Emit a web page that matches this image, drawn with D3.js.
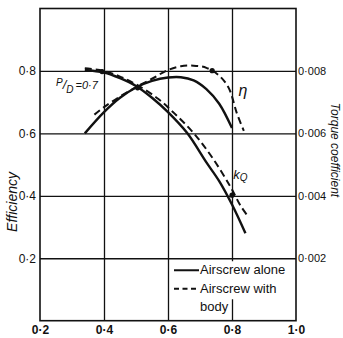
<!DOCTYPE html>
<html>
<head>
<meta charset="utf-8">
<script src="https://cdn.jsdelivr.net/npm/d3@7"></script>
<style>
  html, body { margin: 0; padding: 0; background: #fff; }
  svg { display: block; font-family: 'Liberation Sans', 'DejaVu Sans', sans-serif; }
</style>
</head>
<body>
<svg id="drawing_region"></svg>
<script>
// advance ratio J on x, efficiency on left, torque coefficient on right
const xTicks     = [0.2, 0.4, 0.6, 0.8, 1.0];
const xGrid      = [0.4, 0.6, 0.8];
const effTicks   = [0.2, 0.4, 0.6, 0.8];
const kqTicks    = [0.002, 0.004, 0.006, 0.008];

const etaAloneJ  = [0.34, 0.40, 0.45, 0.50, 0.55, 0.60, 0.64, 0.68, 0.72, 0.76, 0.80];
const etaAlone   = [0.600, 0.668, 0.714, 0.747, 0.768, 0.779, 0.780, 0.770, 0.742, 0.695, 0.617];

const etaBodyJ   = [0.37, 0.40, 0.45, 0.50, 0.55, 0.60, 0.64, 0.68, 0.72, 0.76, 0.79, 0.815, 0.837];
const etaBody    = [0.660, 0.684, 0.718, 0.748, 0.775, 0.803, 0.815, 0.817, 0.810, 0.785, 0.745, 0.665, 0.608];

const kqAloneJ   = [0.34, 0.40, 0.45, 0.50, 0.55, 0.60, 0.66, 0.72, 0.76, 0.80, 0.842];
const kqAlone    = [0.00803, 0.00795, 0.00777, 0.00752, 0.00714, 0.00668, 0.00601, 0.00507, 0.00447, 0.00372, 0.00280];

const kqBodyJ    = [0.34, 0.40, 0.45, 0.50, 0.57, 0.62, 0.68, 0.74, 0.795, 0.827, 0.853];
const kqBody     = [0.00809, 0.00800, 0.00782, 0.00757, 0.00710, 0.00664, 0.00601, 0.00520, 0.00429, 0.00368, 0.00330];

const markJ      = [0.394, 0.505, 0.738, 0.800];
const markEff    = [0.798, 0.746, 0.801, 0.402];

const legendLabels = ['Airscrew alone', 'Airscrew with', 'body'];

const W = 343, H = 338;
const margin = { top: 8.5, right: 47, bottom: 17.3, left: 40 };
const iw = W - margin.left - margin.right;
const ih = H - margin.top - margin.bottom;

const svg = d3.select('#drawing_region').attr('width', W).attr('height', H);
const chart = svg.append('g').attr('transform', `translate(${margin.left}, ${margin.top})`);

const x  = d3.scaleLinear().domain([0.2, 1.0]).range([0, iw]);
const y  = d3.scaleLinear().domain([0, 1.0]).range([ih, 0]);
const yk = d3.scaleLinear().domain([0, 0.01]).range([ih, 0]);

const dot = s => s.replace('.', '·');
const ink = '#111';

// grid lines
chart.append('g')
    .call(d3.axisLeft(y).tickValues(effTicks).tickSize(-iw).tickFormat(''))
    .call(g => g.select('.domain').remove())
    .call(g => g.selectAll('line').attr('stroke', ink).attr('stroke-width', 1.3));

chart.append('g')
    .attr('transform', `translate(0, ${ih})`)
    .call(d3.axisBottom(x).tickValues(xGrid).tickSize(-ih).tickFormat(''))
    .call(g => g.select('.domain').remove())
    .call(g => g.selectAll('line').attr('stroke', ink).attr('stroke-width', 1.3));

// tick labels
chart.append('g')
    .call(d3.axisLeft(y).tickValues(effTicks).tickSize(0).tickPadding(4).tickFormat(d => dot(d3.format('.1f')(d))))
    .call(g => g.select('.domain').remove())
    .call(g => g.selectAll('text').attr('font-size', 12).attr('fill', ink).attr('font-family', null));

chart.append('g')
    .attr('transform', `translate(${iw}, 0)`)
    .call(d3.axisRight(yk).tickValues(kqTicks).tickSize(0).tickPadding(2).tickFormat(d => dot(d3.format('.3f')(d))))
    .call(g => g.select('.domain').remove())
    .call(g => g.selectAll('text').attr('font-size', 11).attr('fill', ink).attr('font-family', null));

chart.append('g')
    .attr('transform', `translate(0, ${ih})`)
    .call(d3.axisBottom(x).tickValues(xTicks).tickSize(0).tickPadding(5).tickFormat(d => dot(d3.format('.1f')(d))))
    .call(g => g.select('.domain').remove())
    .call(g => g.selectAll('text').attr('font-size', 12).attr('font-weight', 'bold').attr('fill', ink).attr('font-family', null));

// frame
chart.append('rect')
    .attr('width', iw).attr('height', ih)
    .attr('fill', 'none').attr('stroke', ink).attr('stroke-width', 1.6);

// legend background
chart.append('rect')
    .attr('x', x(0.6) + 3).attr('y', y(0.2) + 3)
    .attr('width', iw - x(0.6) - 4).attr('height', 38)
    .attr('fill', '#fff');

// curves
const line = d3.line().curve(d3.curveCatmullRom.alpha(0.5));
const series = [
    { xs: etaAloneJ, ys: etaAlone, sc: y,  dash: null },
    { xs: etaBodyJ,  ys: etaBody,  sc: y,  dash: '7,4' },
    { xs: kqAloneJ,  ys: kqAlone,  sc: yk, dash: null },
    { xs: kqBodyJ,   ys: kqBody,   sc: yk, dash: '7,4' }
];

chart.append('g').selectAll('path')
    .data(series)
    .enter()
    .append('path')
    .attr('d', s => line(s.xs.map((v, i) => [x(v), s.sc(s.ys[i])])))
    .attr('fill', 'none')
    .attr('stroke', ink)
    .attr('stroke-width', s => s.dash ? 2 : 2.4)
    .attr('stroke-dasharray', s => s.dash);

chart.append('g').selectAll('circle')
    .data(markJ)
    .enter()
    .append('circle')
    .attr('cx', d => x(d))
    .attr('cy', (d, i) => y(markEff[i]))
    .attr('r', 2.6)
    .attr('fill', ink);

// annotations
const pd = chart.append('text')
    .attr('x', x(0.25)).attr('y', y(0.753))
    .attr('font-size', 11).attr('font-style', 'italic').attr('fill', ink);
pd.append('tspan').attr('font-size', 10).text('P');
pd.append('tspan').attr('dy', 3).attr('font-size', 13).text('/');
pd.append('tspan').attr('dy', 4).attr('font-size', 10).text('D');
pd.append('tspan').attr('dy', -4).attr('dx', 2).text('=0·7');

chart.append('text')
    .attr('x', x(0.82)).attr('y', y(0.72))
    .attr('font-size', 16).attr('font-style', 'italic').attr('fill', ink)
    .text('η');

const kq = chart.append('text')
    .attr('x', x(0.804)).attr('y', y(0.455))
    .attr('font-size', 13).attr('font-style', 'italic').attr('fill', ink);
kq.append('tspan').text('k');
kq.append('tspan').attr('dy', 2).attr('font-size', 10).text('Q');

// legend
const lx = x(0.6) + 6;
const legendY = [y(0.2) + 16, y(0.2) + 34.5, y(0.2) + 53];
chart.append('line')
    .attr('x1', lx).attr('x2', lx + 25)
    .attr('y1', legendY[0] - 4).attr('y2', legendY[0] - 4)
    .attr('stroke', ink).attr('stroke-width', 2);
chart.append('line')
    .attr('x1', lx).attr('x2', lx + 25)
    .attr('y1', legendY[1] - 4).attr('y2', legendY[1] - 4)
    .attr('stroke', ink).attr('stroke-width', 2).attr('stroke-dasharray', '5,3.5');

chart.append('g').selectAll('text')
    .data(legendLabels)
    .enter()
    .append('text')
    .attr('x', lx + 26)
    .attr('y', (d, i) => legendY[i])
    .attr('font-size', 13)
    .attr('fill', ink)
    .text(d => d);

// axis titles
svg.append('text')
    .attr('transform', `translate(17, 202) rotate(-90)`)
    .attr('text-anchor', 'middle')
    .attr('font-size', 14).attr('font-style', 'italic').attr('fill', ink)
    .text('Efficiency');

svg.append('text')
    .attr('transform', `translate(331, 150) rotate(90)`)
    .attr('text-anchor', 'middle')
    .attr('font-size', 12).attr('font-style', 'italic').attr('fill', ink)
    .text('Torque coefficient');
</script>
</body>
</html>
